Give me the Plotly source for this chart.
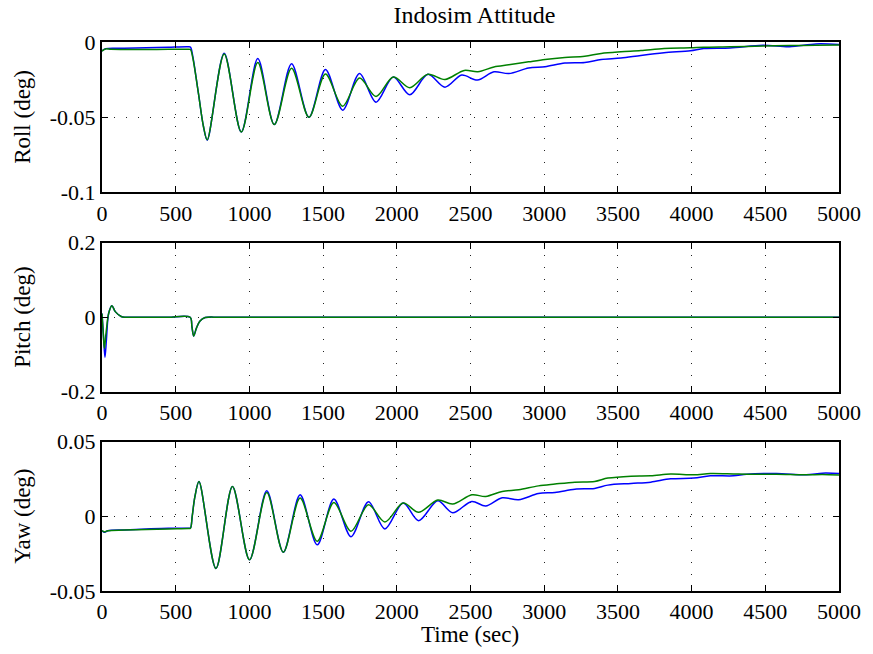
import plotly.graph_objects as go

# ---------------- data ----------------
x_ticks = [0, 500, 1000, 1500, 2000, 2500, 3000, 3500, 4000, 4500, 5000]
x_ticktext = ["0", "500", "1000", "1500", "2000", "2500", "3000", "3500", "4000", "4500", "5000"]

roll_ticks = [-0.1, -0.05, 0]
roll_ticktext = ["-0.1", "-0.05", "0"]
pitch_ticks = [-0.2, 0, 0.2]
pitch_ticktext = ["-0.2", "0", "0.2"]
yaw_ticks = [-0.05, 0, 0.05]
yaw_ticktext = ["-0.05", "0", "0.05"]

# Roll, blue series
roll_t_blue = [0, 25, 150, 300, 450, 585, 600, 615, 654, 688, 714, 829, 945, 1057, 1169, 1286, 1404,
               1516, 1633, 1747, 1859, 1976, 2088, 2211, 2327, 2440, 2547, 2659, 2760, 2894,
               3006, 3140, 3275, 3387, 3521, 3656, 3813, 3992, 4082, 4261, 4485, 4664, 4843, 5000]
roll_blue = [-0.0060, -0.0044, -0.0042, -0.0039, -0.0035, -0.0032, -0.0034, -0.0090, -0.034, -0.056, -0.0653,
             -0.0075, -0.0598, -0.0110, -0.0549, -0.0144, -0.0500, -0.0182, -0.0453, -0.0209,
             -0.0400, -0.0233, -0.0351, -0.0215, -0.0300, -0.0220, -0.0253, -0.0198, -0.0210,
             -0.0173, -0.0164, -0.0140, -0.0136, -0.0116, -0.0107, -0.0089, -0.0071, -0.0058,
             -0.0044, -0.0040, -0.0022, -0.0031, -0.0013, -0.0016]
# Roll, green series
roll_t_green = [0, 25, 60, 150, 300, 450, 585, 600, 615, 654, 688, 714, 829, 945, 1057, 1169, 1286, 1404,
                1516, 1633, 1747, 1859, 1976, 2088, 2211, 2327, 2457, 2550, 2659, 2760, 2894,
                3006, 3140, 3275, 3387, 3521, 3656, 3813, 3992, 4082, 4261, 4485, 4664, 4843, 5000]
roll_green = [-0.0060, -0.0046, -0.0049, -0.0050, -0.0050, -0.0049, -0.0048, -0.0050, -0.0100, -0.034, -0.056,
              -0.0650, -0.0080, -0.0598, -0.0137, -0.0549, -0.0175, -0.0500, -0.0213, -0.0427,
              -0.0240, -0.0362, -0.0233, -0.0304, -0.0215, -0.0249, -0.0189, -0.0198, -0.0166,
              -0.0152, -0.0132, -0.0116, -0.0103, -0.0095, -0.0076, -0.0065, -0.0057, -0.0043,
              -0.0039, -0.0035, -0.0032, -0.0027, -0.0024, -0.0022, -0.0020]

# Pitch, blue series
pitch_t_blue = [0, 10, 20, 30, 45, 67, 90, 130, 160, 300, 450, 598, 610, 622, 640, 665, 700,
                800, 1500, 2500, 3500, 4500, 5000]
pitch_blue = [0.010, -0.050, -0.108, -0.060, 0.010, 0.031, 0.015, 0.002, 0.0, 0.0, 0.0, 0.0,
              -0.025, -0.0505, -0.030, -0.010, -0.001, 0.0, 0.0, 0.0, 0.0, 0.0, 0.0]
# Pitch, green series
pitch_t_green = [0, 8, 16, 28, 45, 67, 90, 130, 160, 300, 450, 598, 610, 622, 640, 665, 700,
                 800, 1500, 2500, 3500, 4500, 5000]
pitch_green = [0.010, -0.040, -0.084, -0.040, 0.010, 0.031, 0.015, 0.002, 0.0, 0.0, 0.0, 0.0,
               -0.025, -0.0505, -0.030, -0.010, -0.001, 0.0, 0.0, 0.0, 0.0, 0.0, 0.0]

# Yaw, blue series
yaw_t = [0, 17, 40, 150, 300, 450, 585, 600, 612, 630, 658, 773, 885, 1001, 1118, 1230, 1344, 1460,
         1573, 1689, 1808, 1919, 2043, 2148, 2278, 2379, 2509, 2603, 2715, 2827, 2961, 3073,
         3208, 3342, 3432, 3589, 3723, 3858, 4015, 4127, 4284, 4373, 4575, 4777, 4888, 5000]
yaw_blue = [-0.0096, -0.0107, -0.0096, -0.0091, -0.0085, -0.0080, -0.0080, -0.0078, 0.0000, 0.0130, 0.0233,
            -0.0349, 0.0200, -0.0291, 0.0171, -0.0240, 0.0144, -0.0191, 0.0116, -0.0136,
            0.0098, -0.0084, 0.0089, -0.0029, 0.0104, 0.0024, 0.0100, 0.0069, 0.0124, 0.0111,
            0.0153, 0.0160, 0.0182, 0.0187, 0.0209, 0.0220, 0.0229, 0.0251, 0.0256, 0.0271,
            0.0271, 0.0282, 0.0287, 0.0278, 0.0289, 0.0287]
# Yaw, green series
yaw_green = [-0.0096, -0.0105, -0.0096, -0.0092, -0.0088, -0.0084, -0.0082, -0.0080, 0.0000, 0.0130, 0.0233,
             -0.0349, 0.0200, -0.0291, 0.0160, -0.0240, 0.0122, -0.0167, 0.0093, -0.0100,
             0.0078, -0.0038, 0.0089, 0.0027, 0.0109, 0.0082, 0.0144, 0.0133, 0.0167, 0.0178,
             0.0204, 0.0216, 0.0229, 0.0233, 0.0256, 0.0269, 0.0271, 0.0284, 0.0278, 0.0287,
             0.0284, 0.0282, 0.0282, 0.0278, 0.0280, 0.0276]

BLUE = "#0000ff"
GREEN = "#008000"
FONT = "Times New Roman, Liberation Serif, Times, serif"

fig = go.Figure()

def add_pair(tb, vb, tg, vg, xa, ya):
    fig.add_trace(go.Scatter(x=tb, y=vb, mode="lines", xaxis=xa, yaxis=ya,
                             line=dict(color=BLUE, width=1.5, shape="spline", smoothing=0.9),
                             showlegend=False, hoverinfo="skip"))
    fig.add_trace(go.Scatter(x=tg, y=vg, mode="lines", xaxis=xa, yaxis=ya,
                             line=dict(color=GREEN, width=1.5, shape="spline", smoothing=0.9),
                             showlegend=False, hoverinfo="skip"))

add_pair(roll_t_blue, roll_blue, roll_t_green, roll_green, "x", "y")
add_pair(pitch_t_blue, pitch_blue, pitch_t_green, pitch_green, "x2", "y2")
add_pair(yaw_t, yaw_blue, yaw_t, yaw_green, "x3", "y3")

common = dict(showline=True, linecolor="black", linewidth=2, mirror="ticks",
              ticks="inside", ticklen=6, tickwidth=1, tickcolor="black",
              showgrid=True, gridcolor="#222222", gridwidth=1, griddash="1px,11px",
              zeroline=False, tickfont=dict(family=FONT, size=22, color="black"))

xcommon = dict(common, range=[0, 5000], tickvals=x_ticks, ticktext=x_ticktext, domain=[0, 1])

layout = dict(
    width=873, height=654,
    margin=dict(l=102, r=26, t=42, b=63),
    paper_bgcolor="white", plot_bgcolor="white",
    showlegend=False,
    title=dict(text="Indosim Attitude", x=0.5435, xanchor="center", y=1 - 15 / 654,
               yanchor="middle", font=dict(family=FONT, size=24, color="black")),
    xaxis=dict(xcommon, anchor="y"),
    xaxis2=dict(xcommon, anchor="y2"),
    xaxis3=dict(xcommon, anchor="y3"),
    yaxis=dict(common, range=[-0.1, 0], tickvals=roll_ticks, ticktext=roll_ticktext,
               domain=[0.726, 1], anchor="x"),
    yaxis2=dict(common, range=[-0.2, 0.2], tickvals=pitch_ticks, ticktext=pitch_ticktext,
                domain=[0.363, 0.6344], anchor="x2"),
    yaxis3=dict(common, range=[-0.05, 0.05], tickvals=yaw_ticks, ticktext=yaw_ticktext,
                domain=[0.0, 0.272], anchor="x3"),
)
fig.update_layout(**layout)

def label(text, ypix, xpix=21, angle=-90):
    fig.add_annotation(text=text, xref="paper", yref="paper",
                       x=(xpix - 102) / 745, y=(591 - ypix) / 549,
                       xanchor="center", yanchor="middle", textangle=angle, showarrow=False,
                       font=dict(family=FONT, size=23, color="black"))

label("Roll (deg)", 117)
label("Pitch (deg)", 317)
label("Yaw (deg)", 516)
label("Time (sec)", 634, xpix=474, angle=0)

fig.write_html("out.html")
